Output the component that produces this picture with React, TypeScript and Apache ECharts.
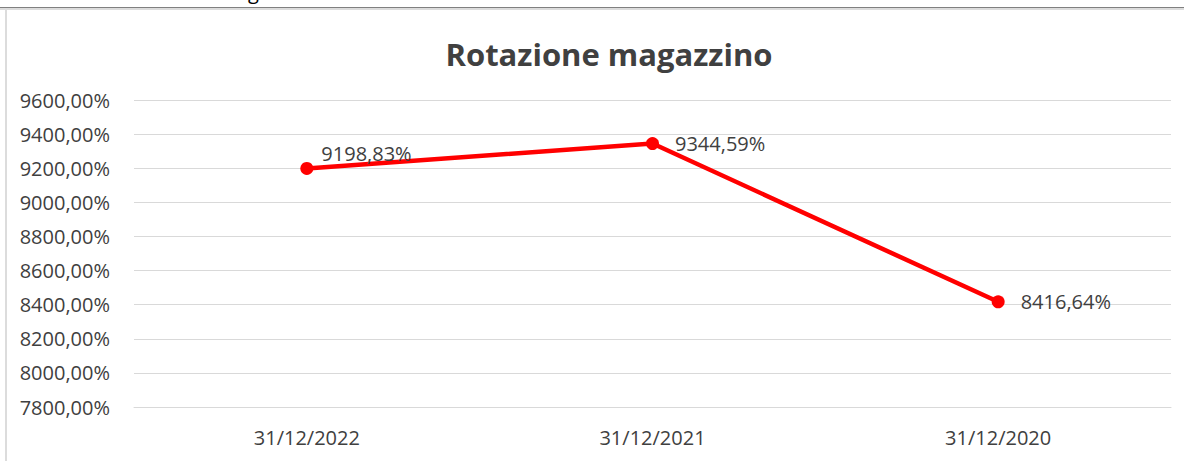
import React, { useEffect, useRef } from "react";
import * as echarts from "echarts";

const title = "Rotazione magazzino";
const categories = ["31/12/2022", "31/12/2021", "31/12/2020"];
const values = [9198.83, 9344.59, 8416.64];
const yMin = 7800;
const yMax = 9600;
const yStep = 200;

const fmt = (v: number) => v.toFixed(2).replace(".", ",") + "%";
const FONT = "'Open Sans', sans-serif";
const TXT = "#404040";

export default function App() {
  const ref = useRef<HTMLDivElement>(null);
  useEffect(() => {
    const chart = echarts.init(ref.current!, undefined, { renderer: "svg" });
    chart.setOption({
      animation: false,
      backgroundColor: "#ffffff",
      title: {
        text: title,
        left: 604,
        textAlign: "center",
        top: 33,
        textStyle: { fontFamily: FONT, fontSize: 31, fontWeight: "bold", color: TXT },
      },
      grid: { left: 134, right: 13, top: 100, bottom: 54, containLabel: false },
      xAxis: {
        type: "category",
        data: categories,
        boundaryGap: true,
        axisLine: { show: true, lineStyle: { color: "#d9d9d9", width: 1 } },
        axisTick: { show: false },
        axisLabel: { color: TXT, fontFamily: FONT, fontSize: 20, margin: 20 },
      },
      yAxis: {
        type: "value",
        min: yMin,
        max: yMax,
        interval: yStep,
        axisLine: { show: false },
        axisTick: { show: false },
        splitLine: { lineStyle: { color: "#d9d9d9", width: 1 } },
        axisLabel: { color: TXT, fontFamily: FONT, fontSize: 20, margin: 24, formatter: (v: number) => fmt(v) },
      },
      graphic: [
        { type: "rect", shape: { x: 0, y: 7, width: 1184, height: 1 }, style: { fill: "#808080" }, silent: true },
        { type: "rect", shape: { x: 0, y: 8, width: 1184, height: 2 }, style: { fill: "#dcdcdc" }, silent: true },
        { type: "rect", shape: { x: 5, y: 9, width: 2, height: 452 }, style: { fill: "#dcdcdc" }, silent: true },
        { type: "text", x: 248, y: -19, style: { text: "g", fontFamily: FONT, fontSize: 20, fill: "#000" }, silent: true },
      ],
      series: [
        {
          type: "line",
          data: values.map((v, i) =>
            i === 0 ? { value: v, label: { offset: [-8, -15] } } : { value: v }
          ),
          lineStyle: { color: "#ff0000", width: 4.5 },
          itemStyle: { color: "#ff0000" },
          symbol: "circle",
          symbolSize: 13,
          label: {
            show: true,
            position: "right",
            distance: 16,
            color: TXT,
            fontFamily: FONT,
            fontSize: 20,
            formatter: (p: any) => fmt(p.value),
          },
        },
      ],
    });
    return () => chart.dispose();
  }, []);
  return (
    <div
      ref={ref}
      style={{ position: "fixed", left: 0, top: 0, width: 1184, height: 461 }}
    />
  );
}
